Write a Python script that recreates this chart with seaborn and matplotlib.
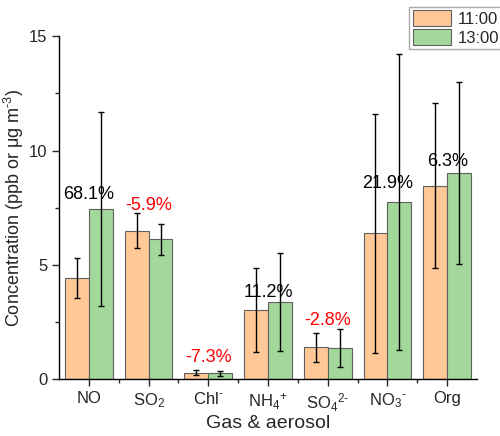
import numpy as np
import pandas as pd
import seaborn as sns
import matplotlib.pyplot as plt
from matplotlib.ticker import MultipleLocator

# species on the x axis
species = ['NO', 'SO$_2$', r'Chl$^{\text{-}}$', 'NH$_4$$^{+}$', r'SO$_4$$^{2\text{-}}$',
           r'NO$_3$$^{\text{-}}$', 'Org']
times = ['11:00', '13:00']
conc_11 = [4.43, 6.50, 0.29, 3.03, 1.40, 6.38, 8.47]
conc_13 = [7.45, 6.12, 0.26, 3.37, 1.36, 7.77, 9.01]
err_11 = [0.89, 0.77, 0.10, 1.85, 0.64, 5.22, 3.59]
err_13 = [4.23, 0.68, 0.12, 2.14, 0.84, 6.47, 3.99]
change = ['68.1%', '-5.9%', '-7.3%', '11.2%', '-2.8%', '21.9%', '6.3%']

colors = ['#FFC896', '#A3D89B']

df = pd.DataFrame({
    'species': species * 2,
    'time': [times[0]] * len(species) + [times[1]] * len(species),
    'conc': conc_11 + conc_13,
})

sns.set_style('ticks')
plt.rcParams['font.family'] = ['Liberation Sans', 'DejaVu Sans']
plt.rcParams['mathtext.fontset'] = 'custom'
plt.rcParams['mathtext.rm'] = 'Liberation Sans'
plt.rcParams['mathtext.it'] = 'Liberation Sans:italic'

fig = plt.figure(figsize=(5, 4.36), dpi=100)
ax = fig.add_axes([0.118, 0.130, 0.836, 0.787])

sns.barplot(data=df, x='species', y='conc', hue='time', palette=colors,
            errorbar=None, width=0.8, edgecolor='#606060', linewidth=0.8,
            saturation=1, ax=ax)

# error bars on top of each bar
for cont, errs in zip(ax.containers, [err_11, err_13]):
    xs = [b.get_x() + b.get_width() / 2 for b in cont]
    ys = [b.get_height() for b in cont]
    ax.errorbar(xs, ys, yerr=errs, fmt='none', ecolor='black',
                elinewidth=1.0, capsize=2.5, capthick=1.0)

# percentage change above each group (offset in points)
offsets = [4, 12, 5, 1, 13, 7, 2]
for i, (lab, off) in enumerate(zip(change, offsets)):
    top = max(conc_11[i], conc_13[i])
    col = 'red' if lab.startswith('-') else 'black'
    ax.annotate(lab, (i, top), xytext=(0, off), textcoords='offset points',
                ha='center', va='bottom', fontsize=13, color=col)

ax.set_ylim(0, 15)
ax.set_xlim(-0.5, 6.5)
ax.yaxis.set_major_locator(MultipleLocator(5))
ax.yaxis.set_minor_locator(MultipleLocator(2.5))
ax.set_xticks(np.arange(len(species)))
ax.set_xticks(np.arange(len(species) - 1) + 0.5, minor=True)
ax.tick_params(axis='both', which='major', length=5, width=1, labelsize=12, direction='out')
ax.tick_params(axis='both', which='minor', length=3, width=1, direction='out')
for s in ['left', 'bottom']:
    ax.spines[s].set_linewidth(1.0)
    ax.spines[s].set_color('black')
sns.despine(ax=ax)

ax.set_xlabel('Gas & aerosol', fontsize=14, labelpad=1)
ax.set_ylabel(r'Concentration (ppb or μg m$^{\text{-}3}$)', fontsize=13, labelpad=2)

ax.legend(loc='upper right', bbox_to_anchor=(1.005, 0.985), bbox_transform=fig.transFigure,
          fontsize=12, frameon=True, fancybox=False, edgecolor='#aaaaaa', framealpha=1,
          handlelength=2.3, handleheight=1.1, borderpad=0.2,
          labelspacing=0.15, handletextpad=0.4, borderaxespad=0)

fig.savefig('out.png', dpi=100)
